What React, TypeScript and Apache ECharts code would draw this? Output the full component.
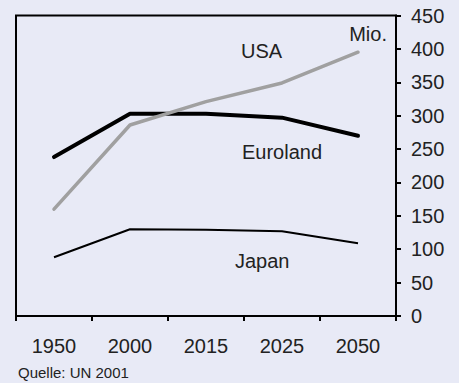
import React, { useEffect, useRef } from "react";
import * as echarts from "echarts";

// Bevölkerung in Mio., UN-Projektion 2001
const years = ["1950", "2000", "2015", "2025", "2050"];
const usa = [160, 286, 321, 349, 395];
const euroland = [238, 303, 303, 297, 270];
const japan = [88, 130, 129, 127, 109];
const yTicks = { min: 0, max: 450, interval: 50 };

const FONT = "'Liberation Sans', Arial, Helvetica, sans-serif";
const TEXT = "#222222";
const BG = "#e8eaf6";

export default function App() {
  const ref = useRef<HTMLDivElement>(null);

  useEffect(() => {
    if (!ref.current) return;
    const chart = echarts.init(ref.current, null, { renderer: "svg" });
    chart.setOption({
      animation: false,
      backgroundColor: BG,
      textStyle: { fontFamily: FONT },
      grid: {
        left: 16,
        right: 63,
        top: 15.5,
        bottom: 67,
        show: true,
        borderColor: "#000",
        borderWidth: 2,
        backgroundColor: "transparent",
      },
      xAxis: {
        type: "category",
        data: years,
        boundaryGap: true,
        axisLine: { show: true, lineStyle: { color: "#000", width: 2 } },
        axisTick: { show: true, length: 5, lineStyle: { color: "#000", width: 2 } },
        axisLabel: { fontSize: 20, color: TEXT, margin: 20, fontFamily: FONT },
        splitLine: { show: false },
      },
      yAxis: {
        type: "value",
        position: "right",
        min: yTicks.min,
        max: yTicks.max,
        interval: yTicks.interval,
        axisLine: { show: true, lineStyle: { color: "#000", width: 2 } },
        axisTick: { show: true, length: 5, lineStyle: { color: "#000", width: 2 } },
        axisLabel: { fontSize: 20, color: TEXT, margin: 15, fontFamily: FONT },
        splitLine: { show: false },
      },
      series: [
        {
          name: "Japan",
          type: "line",
          data: japan,
          symbol: "none",
          lineStyle: { color: "#000", width: 2 },
        },
        {
          name: "Euroland",
          type: "line",
          data: euroland,
          symbol: "none",
          lineStyle: { color: "#000", width: 4, cap: "round" },
        },
        {
          name: "USA",
          type: "line",
          data: usa,
          symbol: "none",
          lineStyle: { color: "#a0a0a0", width: 3.5, cap: "round" },
        },
      ],
      graphic: [
        {
          type: "text",
          x: 387,
          y: 34,
          style: { text: "Mio.", font: `20px ${FONT}`, fill: TEXT, align: "right", verticalAlign: "middle" },
        },
        {
          type: "text",
          x: 241,
          y: 51,
          style: { text: "USA", font: `20px ${FONT}`, fill: TEXT, align: "left", verticalAlign: "middle" },
        },
        {
          type: "text",
          x: 242,
          y: 152,
          style: { text: "Euroland", font: `20px ${FONT}`, fill: TEXT, align: "left", verticalAlign: "middle" },
        },
        {
          type: "text",
          x: 235,
          y: 261,
          style: { text: "Japan", font: `20px ${FONT}`, fill: TEXT, align: "left", verticalAlign: "middle" },
        },
        {
          type: "text",
          x: 18,
          y: 372,
          style: { text: "Quelle: UN 2001", font: `15px ${FONT}`, fill: TEXT, align: "left", verticalAlign: "middle" },
        },
      ],
    });
    return () => chart.dispose();
  }, []);

  return (
    <div
      ref={ref}
      style={{ position: "fixed", left: 0, top: 0, width: 459, height: 383 }}
    />
  );
}
